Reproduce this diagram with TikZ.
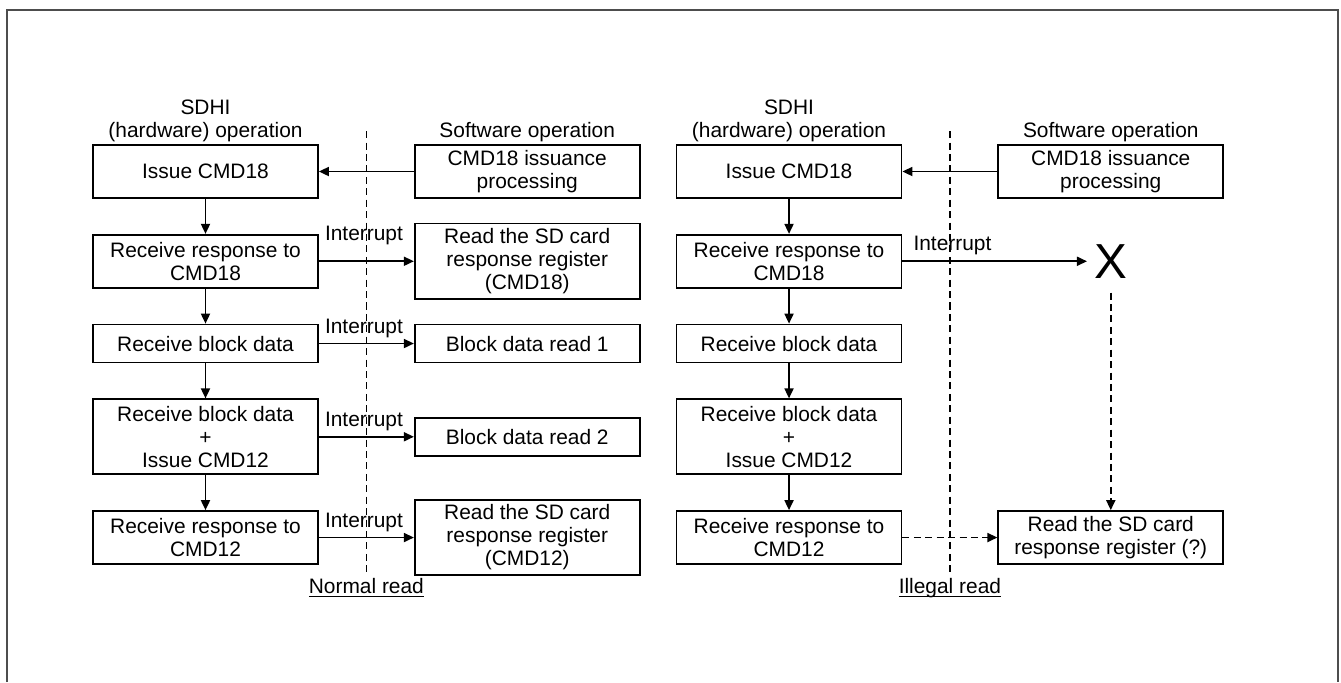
\documentclass[tikz,border=0pt]{standalone}
\usepackage{amsmath}
\usepackage{fontspec}
\setmainfont{Liberation Sans}
\usepackage{tikz}
\usetikzlibrary{arrows.meta, positioning, calc}
\definecolor{framegray}{HTML}{4D4D4D}

\begin{document}
\begin{tikzpicture}[
  font=\fontsize{11.9}{13.1}\selectfont,
  node distance=0.70cm and 1.90cm,
  box/.style={rectangle, draw=black, line width=1pt,
              minimum width=4.5cm, minimum height=1.06cm,
              inner xsep=0.1cm, inner ysep=0.1cm, align=center},
  shortbox/.style={box, minimum height=0.76cm},
  tallbox/.style={box, minimum height=1.5cm},
  head/.style={inner sep=1pt, align=center},
  irq/.style={anchor=south west, inner sep=3pt},
  arr/.style={-{Triangle[length=0.2cm, width=0.18cm]}, line width=1pt},
  darr/.style={arr, dash pattern=on 4pt off 2.5pt},
  divider/.style={line width=1pt, dash pattern=on 4pt off 2.5pt},
]
\useasboundingbox (0,0) rectangle (26.82,-13.64);
\draw[framegray, line width=1.2pt] (0.14,-13.64) |- (26.76,-0.2) -- (26.76,-13.64);

\node[box] (lissue) at (4.11,-3.43) {Issue CMD18};
\node[box, below=of lissue]       (lresp18)  {Receive response to\\CMD18};
\node[shortbox, below=of lresp18] (lblock)   {Receive block data};
\node[tallbox, below=of lblock]   (lblock12) {Receive block data\\+\\Issue CMD12};
\node[box, below=of lblock12]     (lresp12)  {Receive response to\\CMD12};
\node[box, right=of lissue]       (lswissue)   {CMD18 issuance\\processing};
\node[tallbox, right=of lresp18]  (lreadreg18) {Read the SD card\\response register\\(CMD18)};
\node[shortbox, right=of lblock]  (lread1)     {Block data read 1};
\node[shortbox, right=of lblock12](lread2)     {Block data read 2};
\node[tallbox, right=of lresp12]  (lreadreg12) {Read the SD card\\response register\\(CMD12)};
\node[head, above=0pt of lissue]   (lhwhead) {SDHI\\(hardware) operation};
\node[head, above=0pt of lswissue] (lswhead) {Software operation};

\node[box, right=0.7cm of lswissue] (rissue)   {Issue CMD18};
\node[box, below=of rissue]        (rresp18)  {Receive response to\\CMD18};
\node[shortbox, below=of rresp18]  (rblock)   {Receive block data};
\node[tallbox, below=of rblock]    (rblock12) {Receive block data\\+\\Issue CMD12};
\node[box, below=of rblock12]      (rresp12)  {Receive response to\\CMD12};
\node[box, right=of rissue]        (rswissue) {CMD18 issuance\\processing};
\node[box, right=of rresp12]       (rreadreg) {Read the SD card\\response register (?)};
\node[font=\fontsize{28}{30}\selectfont, inner xsep=4pt, inner ysep=8pt]
  (rlost) at (rreadreg.center |- rresp18.center) {X};
\node[head, above=0pt of rissue]   (rhwhead) {SDHI\\(hardware) operation};
\node[head, above=0pt of rswissue] (rswhead) {Software operation};

\coordinate (ldivtop) at ($(lissue.north east)!.5!(lswissue.north west)+(0,0.26)$);
\coordinate (ldivbot) at ($(ldivtop |- lresp12.south)+(0,-0.16)$);
\coordinate (rdivtop) at ($(rissue.north east)!.5!(rswissue.north west)+(0,0.26)$);
\coordinate (rdivbot) at ($(rdivtop |- rresp12.south)+(0,-0.16)$);
\draw[divider] (ldivtop) -- (ldivbot);
\draw[divider] (rdivtop) -- (rdivbot);
\node[below=2pt of ldivbot, inner sep=1pt] (lnormal)  {\underline{\smash[b]{Normal read}}};
\node[below=2pt of rdivbot, inner sep=1pt] (rillegal) {\underline{\smash[b]{Illegal read}}};

\draw[arr] (lswissue) -- (lissue);
\draw[arr] (lissue)   -- (lresp18);
\draw[arr] (lresp18)  -- (lblock);
\draw[arr] (lblock)   -- (lblock12);
\draw[arr] (lblock12) -- (lresp12);
\draw[arr] (lresp18)  -- node[irq, pos=0, yshift=0.2cm] {Interrupt} (lreadreg18);
\draw[arr] (lblock)   -- node[irq, pos=0] {Interrupt} (lread1);
\draw[arr] (lblock12) -- node[irq, pos=0] {Interrupt} (lread2);
\draw[arr] (lresp12)  -- node[irq, pos=0] {Interrupt} (lreadreg12);

\draw[arr] (rswissue) -- (rissue);
\draw[arr] (rissue)   -- (rresp18);
\draw[arr] (rresp18)  -- (rblock);
\draw[arr] (rblock)   -- (rblock12);
\draw[arr] (rblock12) -- (rresp12);
\draw[arr] (rresp18)  -- node[irq, pos=0, xshift=0.1cm] {Interrupt} (rlost);
\draw[darr] (rlost)   -- (rreadreg);
\draw[darr] (rresp12) -- (rreadreg);
\end{tikzpicture}
\end{document}
